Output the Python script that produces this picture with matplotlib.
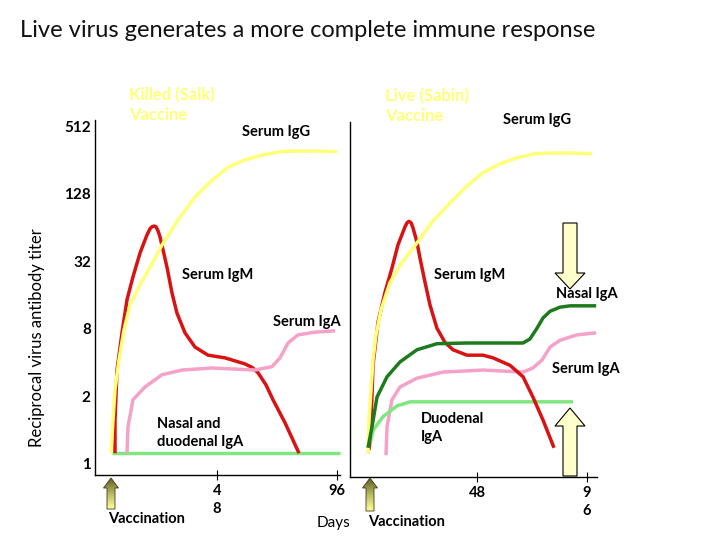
import matplotlib
matplotlib.use("Agg")
import numpy as np
import matplotlib.pyplot as plt
from matplotlib.patches import Polygon
from matplotlib.colors import LinearSegmentedColormap

plt.rcParams["font.family"] = ["Lato", "DejaVu Sans"]

# ---------------------------------------------
# Axis labels (titer levels are evenly spaced)
# ---------------------------------------------
titer_labels = ["1", "2", "8", "32", "128", "512"]
titer_levels = [0, 1, 2, 3, 4, 5]

day_ticks = [48, 96]
killed_day_labels = ["4\n8", "96"]
live_day_labels = ["48", "9\n6"]

# ---------------------------------------------
# Killed (Salk) vaccine - x in days, y in titer level
# ---------------------------------------------
killed_igg_x = [5.6, 6.4, 7.2, 8.8, 10.8, 13.2, 17.2, 22.4, 26.0, 32.4, 39.2,
                45.2, 52.4, 59.2, 66.0, 73.2, 79.2, 87.2, 96.0]
killed_igg_y = [0.16, 0.65, 1.10, 1.54, 1.98, 2.35, 2.65, 2.99, 3.24, 3.61, 3.95,
                4.17, 4.39, 4.50, 4.57, 4.62, 4.63, 4.63, 4.62]

killed_igm_x = [7.2, 7.2, 7.6, 8.0, 10.0, 12.0, 14.4, 17.2, 20.0, 21.2, 22.0, 22.8,
                23.6, 24.4, 25.2, 26.4, 28.0, 30.0, 32.0, 35.2, 39.2, 44.4, 51.2,
                59.2, 62.0, 64.4, 67.6, 70.4, 75.2, 80.8]
killed_igm_y = [0.16, 0.65, 1.02, 1.39, 1.94, 2.43, 2.77, 3.12, 3.39, 3.48, 3.51, 3.52,
                3.51, 3.45, 3.36, 3.17, 2.91, 2.53, 2.23, 1.94, 1.73, 1.61, 1.57,
                1.48, 1.43, 1.35, 1.17, 0.95, 0.61, 0.16]

killed_sera_x = [12.0, 12.4, 14.4, 19.2, 26.0, 34.0, 46.0, 63.2, 70.0, 73.2, 76.4,
                 80.4, 87.2, 95.2]
killed_sera_y = [0.16, 0.55, 0.95, 1.14, 1.32, 1.39, 1.42, 1.39, 1.44, 1.57, 1.79,
                 1.91, 1.95, 1.97]

killed_mucosal_x = [5.9, 97.0]
killed_mucosal_y = [0.16, 0.16]

# ---------------------------------------------
# Live (Sabin) vaccine
# ---------------------------------------------
live_igg_x = [0.44, 0.87, 1.75, 2.62, 3.93, 6.11, 10.0, 14.4, 21.8, 28.4, 36.2,
              43.2, 50.6, 58.0, 65.5, 73.3, 79.9, 88.6, 98.2]
live_igg_y = [0.16, 0.65, 1.10, 1.54, 1.91, 2.28, 2.68, 2.94, 3.27, 3.58, 3.86,
              4.10, 4.31, 4.44, 4.53, 4.59, 4.60, 4.60, 4.59]

live_igm_x = [0.87, 1.75, 2.18, 2.62, 4.80, 7.85, 10.9, 13.5, 16.6, 17.5, 18.3,
              19.2, 20.1, 21.8, 23.1, 25.3, 27.5, 30.5, 34.0, 37.5, 43.6, 50.6,
              55.0, 62.4, 68.1, 72.4, 76.8, 81.6]
live_igm_y = [0.21, 0.65, 1.02, 1.46, 2.10, 2.54, 2.90, 3.24, 3.51, 3.57, 3.59,
              3.57, 3.49, 3.28, 3.05, 2.69, 2.35, 2.01, 1.80, 1.69, 1.61, 1.61,
              1.57, 1.46, 1.29, 0.99, 0.65, 0.24]

live_nasal_x = [0.44, 2.18, 4.36, 8.73, 14.4, 21.8, 30.6, 43.6, 68.1, 71.1, 74.2,
                76.8, 79.9, 84.2, 88.6, 100.0]
live_nasal_y = [0.24, 0.55, 0.99, 1.29, 1.51, 1.69, 1.78, 1.79, 1.79, 1.85, 2.01,
                2.16, 2.26, 2.32, 2.34, 2.34]

live_sera_x = [8.29, 8.73, 10.9, 14.4, 21.8, 33.2, 50.6, 68.1, 72.4, 76.4, 79.9,
               84.2, 91.6, 100.0]
live_sera_y = [0.13, 0.55, 0.95, 1.14, 1.27, 1.36, 1.39, 1.36, 1.42, 1.54, 1.73,
               1.83, 1.91, 1.94]

live_duodenal_x = [0.44, 2.62, 6.98, 13.1, 18.8, 36.2, 89.9]
live_duodenal_y = [0.16, 0.50, 0.70, 0.86, 0.92, 0.92, 0.92]

# -----------------------------
# Colours
# -----------------------------
YELLOW = "#ffff78"
RED = "#d81313"
PINK = "#f4a2c8"
LIGHT_GREEN = "#80e680"
DARK_GREEN = "#1d7a1d"
PALE = "#ffffcc"
LW = 2.5

W, H = 720, 540


def frac(x, y):
    """pixel position (from top-left) -> figure fraction"""
    return x / W, 1 - y / H


fig = plt.figure(figsize=(7.2, 5.4), dpi=100)

ax_k = fig.add_axes([95 / W, 1 - 475 / H, 245 / W, 355 / H])
ax_l = fig.add_axes([350 / W, 1 - 477 / H, 247 / W, 355 / H])

ax_k.set_xlim(-0.8, 97.2)
ax_k.set_ylim(-0.163, 5.089)
ax_l.set_xlim(-7.42, 100.36)
ax_l.set_ylim(-0.192, 5.059)

for ax in (ax_k, ax_l):
    ax.spines["top"].set_visible(False)
    ax.spines["right"].set_visible(False)
    ax.spines["left"].set_linewidth(1.0)
    ax.spines["bottom"].set_linewidth(1.0)
    ax.patch.set_alpha(0)
    ax.set_xticks(day_ticks)
    ax.tick_params(axis="x", direction="inout", length=6.5, width=0.8, pad=3.5,
                   labelsize=10.5)

ax_k.set_xticklabels(killed_day_labels, fontweight="bold", linespacing=1.3)
ax_l.set_xticklabels(live_day_labels, fontweight="bold", linespacing=1.3)

ax_k.set_yticks(titer_levels)
ax_k.set_yticklabels(titer_labels, fontweight="bold")
ax_k.tick_params(axis="y", length=0, pad=3, labelsize=11)
ax_l.set_yticks([])

style = dict(lw=LW, clip_on=False, solid_joinstyle="round", solid_capstyle="butt")

# killed vaccine curves
ax_k.plot(killed_mucosal_x, killed_mucosal_y, color=LIGHT_GREEN, **style)
ax_k.plot(killed_igm_x, killed_igm_y, color=RED, **style)
ax_k.plot(killed_igg_x, killed_igg_y, color=YELLOW, **style)
ax_k.plot(killed_sera_x, killed_sera_y, color=PINK, **style)

# live vaccine curves
ax_l.plot(live_sera_x, live_sera_y, color=PINK, **style)
ax_l.plot(live_duodenal_x, live_duodenal_y, color=LIGHT_GREEN, **style)
ax_l.plot(live_igm_x, live_igm_y, color=RED, **style)
ax_l.plot(live_igg_x, live_igg_y, color=YELLOW, **style)
ax_l.plot(live_nasal_x, live_nasal_y, color=DARK_GREEN, **style)

# -----------------------------
# Text
# -----------------------------
fig.text(*frac(20, 31), "Live virus generates a more complete immune response",
         fontsize=17, ha="left", va="center", color="#111111")
fig.text(*frac(37, 338), "Reciprocal virus antibody titer", rotation=90,
         fontsize=12, ha="center", va="center")

bold = dict(fontsize=10.5, fontweight="bold", va="center")
vac = dict(fontsize=12, fontweight="bold", va="center", color=YELLOW, ha="left",
           linespacing=1.35)
fig.text(*frac(129, 105), "Killed (Salk)\nVaccine", **vac)
fig.text(*frac(385, 106), "Live (Sabin)\nVaccine", **vac)
fig.text(*frac(276, 132), "Serum IgG", ha="center", **bold)
fig.text(*frac(537, 120), "Serum IgG", ha="center", **bold)
fig.text(*frac(218, 275), "Serum IgM", ha="center", **bold)
fig.text(*frac(470, 275), "Serum IgM", ha="center", **bold)
fig.text(*frac(307, 322), "Serum IgA", ha="center", **bold)
fig.text(*frac(586, 369), "Serum IgA", ha="center", **bold)
fig.text(*frac(587, 294), "Nasal IgA", ha="center", **bold)
fig.text(*frac(157, 433), "Nasal and\nduodenal IgA", ha="left",
         linespacing=1.35, **bold)
fig.text(*frac(421, 428), "Duodenal\nIgA", ha="left", linespacing=1.4, **bold)
fig.text(*frac(147, 519), "Vaccination", ha="center", **bold)
fig.text(*frac(407, 522), "Vaccination", ha="center", **bold)
fig.text(*frac(333, 523), "Days", fontsize=11, ha="center", va="center")

# -----------------------------
# Arrows (overlay in pixel space)
# -----------------------------
ov = fig.add_axes([0, 0, 1, 1])
ov.axis("off")

olive = LinearSegmentedColormap.from_list("olive", ["#5f5f25", "#b8b860", "#ffff99"])
grad = np.linspace(0, 1, 64).reshape(-1, 1)

for cx, bottom in [(111, 509), (370, 511)]:
    pts = [(cx, 478), (cx + 7.5, 488), (cx + 4, 488), (cx + 4, bottom),
           (cx - 4, bottom), (cx - 4, 488), (cx - 7.5, 488)]
    poly = Polygon(pts, closed=True, facecolor="none", edgecolor="#3a3a20", lw=0.6)
    ov.add_patch(poly)
    im = ov.imshow(grad, cmap=olive, extent=(cx - 8, cx + 8, bottom, 478),
                   aspect="auto", origin="upper")
    im.set_clip_path(poly)

down = [(563, 223), (577, 223), (577, 273), (585, 273), (570, 289),
        (555, 273), (563, 273)]
up = [(570, 408), (585, 426), (577, 426), (577, 476), (563, 476),
      (563, 426), (555, 426)]
for pts in (down, up):
    ov.add_patch(Polygon(pts, closed=True, facecolor=PALE, edgecolor="black", lw=0.8))

ov.set_xlim(0, W)
ov.set_ylim(H, 0)

fig.savefig("out.png", dpi=100)
